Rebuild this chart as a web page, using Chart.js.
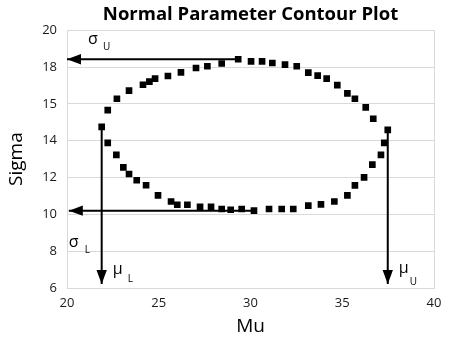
<!DOCTYPE html>
<html>
<head>
<meta charset="utf-8">
<script src="https://cdn.jsdelivr.net/npm/chart.js@4/dist/chart.umd.min.js"></script>
<style>
html,body{margin:0;padding:0;background:#fff;}
canvas{display:block;}
</style>
</head>
<body>
<canvas id="c" width="450" height="340"></canvas>
<script>
// Contour points (Mu, Sigma)
const contourMu = [21.89,22.22,22.72,23.38,24.14,24.49,24.80,25.50,26.21,27.03,27.65,28.43,29.33,30.03,30.63,31.19,31.88,32.52,33.15,33.66,34.15,34.73,35.28,35.69,36.28,36.69,37.48,
  37.29,37.11,36.64,36.19,35.69,35.28,34.57,33.84,33.15,32.33,31.70,31.01,30.19,29.52,28.92,28.43,27.85,27.25,26.56,26.01,25.67,24.96,24.31,23.80,23.38,23.07,22.69,22.22];
const contourSigma = [14.75,15.66,16.28,16.72,17.04,17.21,17.37,17.51,17.71,17.95,18.04,18.19,18.42,18.31,18.31,18.22,18.13,18.04,17.70,17.53,17.37,17.02,16.57,16.28,15.81,15.19,14.59,
  13.88,13.23,12.70,12.01,11.57,11.03,10.70,10.54,10.47,10.29,10.29,10.29,10.20,10.29,10.25,10.29,10.41,10.41,10.52,10.52,10.70,11.03,11.58,11.85,12.19,12.55,13.23,13.88];

// Arrows: start and end (Mu, Sigma)
const sigmaUArrowMu = [29.33, 20.0];
const sigmaUArrowSigma = [18.42, 18.42];
const sigmaLArrowMu = [30.19, 20.1];
const sigmaLArrowSigma = [10.20, 10.20];
const muLArrowMu = [21.89, 21.89];
const muLArrowSigma = [14.75, 6.22];
const muUArrowMu = [37.48, 37.48];
const muUArrowSigma = [14.59, 6.22];

const arrowMain = ['σ', 'σ', 'μ', 'μ'];
const arrowSub = ['U', 'L', 'L', 'U'];

// Axis ticks
const xTickValues = [20, 25, 30, 35, 40];
const yTickValues = [6, 8, 10, 12, 14, 16, 18, 20];
const yTickLabels = ['6', '8', '10', '12', '14', '15', '18', '20'];

const TITLE = 'Normal Parameter Contour Plot';
const FONT = "'Open Sans', 'DejaVu Sans', sans-serif";

function toPts(xs, ys) { return xs.map((x, i) => ({x: x, y: ys[i]})); }

function arrowDs(xs, ys) {
  return {
    data: toPts(xs, ys), showLine: true, borderColor: '#000', backgroundColor: '#000',
    borderWidth: 2, pointRadius: 0, clip: false, isArrow: true
  };
}

// label offsets relative to arrow tips (pixels): [mainDx, mainDy, subDx, subDy]
const labelOffsets = [[21, -15.5, 36, -9.5], [0, 36.5, 16, 42], [11, -10, 26, -2], [11, -11, 22, 1]];

const arrowPlugin = {
  id: 'arrows',
  afterDatasetsDraw(chart) {
    const ctx = chart.ctx;
    let k = 0;
    chart.data.datasets.forEach((ds, di) => {
      if (!ds.isArrow) return;
      const meta = chart.getDatasetMeta(di);
      const p0 = meta.data[meta.data.length - 2], p1 = meta.data[meta.data.length - 1];
      const dx = p1.x - p0.x, dy = p1.y - p0.y, len = Math.hypot(dx, dy);
      const ux = dx / len, uy = dy / len, nx = -uy, ny = ux;
      const L = 14, W = 5.2;
      ctx.save();
      ctx.fillStyle = '#000';
      ctx.beginPath();
      ctx.moveTo(p1.x, p1.y);
      ctx.lineTo(p1.x - ux * L + nx * W, p1.y - uy * L + ny * W);
      ctx.lineTo(p1.x - ux * L - nx * W, p1.y - uy * L - ny * W);
      ctx.closePath();
      ctx.fill();
      const o = labelOffsets[k];
      ctx.textBaseline = 'alphabetic';
      ctx.textAlign = 'left';
      ctx.font = '16px ' + FONT;
      ctx.fillText(arrowMain[k], p1.x + o[0], p1.y + o[1]);
      ctx.font = '10px ' + FONT;
      ctx.fillText(arrowSub[k], p1.x + o[2], p1.y + o[3]);
      ctx.restore();
      k++;
    });
  },
  afterDraw(chart) {
    // title centred over the plot area, inside the space reserved by the title block
    const ctx = chart.ctx, ca = chart.chartArea, tb = chart.titleBlock;
    ctx.save();
    ctx.fillStyle = '#000';
    ctx.font = 'bold 18.5px ' + FONT;
    ctx.textAlign = 'center';
    ctx.textBaseline = 'middle';
    ctx.fillText(TITLE, (ca.left + ca.right) / 2, tb.top + 3 + 11.5);
    ctx.restore();
  }
};

new Chart(document.getElementById('c'), {
  type: 'scatter',
  data: {
    datasets: [
      {
        data: toPts(contourMu, contourSigma), pointStyle: 'rect', pointRadius: 4.7,
        backgroundColor: '#000', borderColor: '#000', borderWidth: 0, showLine: false
      },
      arrowDs(sigmaUArrowMu, sigmaUArrowSigma),
      arrowDs(sigmaLArrowMu, sigmaLArrowSigma),
      arrowDs(muLArrowMu, muLArrowSigma),
      arrowDs(muUArrowMu, muUArrowSigma)
    ]
  },
  options: {
    responsive: false,
    animation: false,
    events: [],
    devicePixelRatio: 1,
    layout: {padding: {left: 0, right: 16, top: 0, bottom: 0}},
    plugins: {
      legend: {display: false},
      tooltip: {enabled: false},
      title: {
        display: true, text: TITLE, color: 'rgba(0,0,0,0)',
        font: {family: FONT, size: 18.5, weight: 'bold'}, padding: {top: 3, bottom: 5}
      }
    },
    scales: {
      x: {
        type: 'linear', min: 20, max: 40,
        afterBuildTicks: (s) => { s.ticks = xTickValues.map(v => ({value: v})); },
        afterFit: (s) => { s.height = 52; },
        ticks: {color: '#1a1a1a', font: {family: FONT, size: 13}, padding: 7, maxRotation: 0},
        grid: {
          drawTicks: false,
          color: (c) => (c.tick && c.tick.value === 40) ? '#d9d9d9' : 'rgba(0,0,0,0)'
        },
        border: {color: '#d9d9d9'},
        title: {display: true, text: 'Mu', color: '#000', font: {family: FONT, size: 19}, padding: {top: 0, bottom: 2}}
      },
      y: {
        type: 'linear', min: 6, max: 20,
        afterBuildTicks: (s) => { s.ticks = yTickValues.map(v => ({value: v})); },
        afterFit: (s) => { s.width = 67; },
        ticks: {
          color: '#1a1a1a', font: {family: FONT, size: 13}, padding: 10,
          callback: (v) => { const i = yTickValues.indexOf(v); return i >= 0 ? yTickLabels[i] : ''; }
        },
        grid: {drawTicks: false, color: '#d9d9d9'},
        border: {color: '#d9d9d9'},
        title: {display: true, text: 'Sigma', color: '#000', font: {family: FONT, size: 19}, padding: {top: 5, bottom: 0}}
      }
    }
  },
  plugins: [arrowPlugin]
});
</script>
</body>
</html>
